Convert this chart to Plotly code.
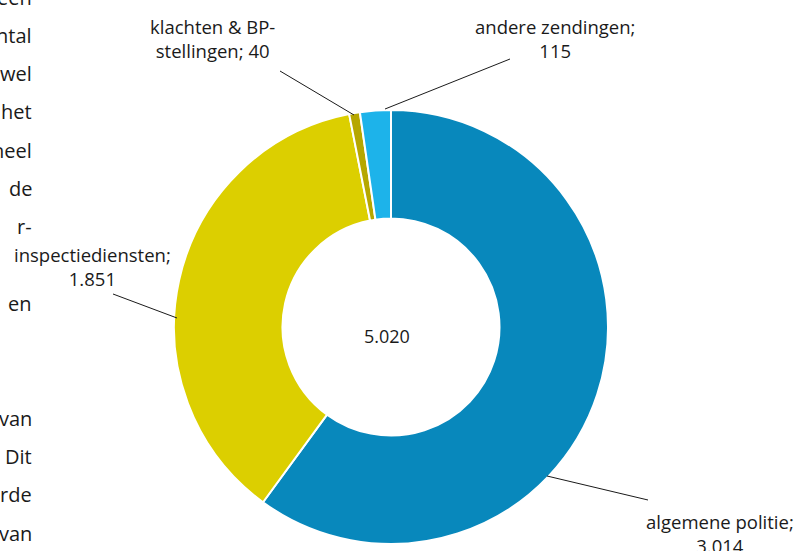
import plotly.graph_objects as go

# ---- data ----
categories = ["algemene politie", "inspectiediensten", "klachten & BP-stellingen", "andere zendingen"]
values = [3014, 1851, 40, 115]
label_lines = [
    ["algemene politie;", "3.014"],
    ["inspectiediensten;", "1.851"],
    ["klachten & BP-", "stellingen; 40"],
    ["andere zendingen;", "115"],
]
colors = ["#0888BC", "#DCCF00", "#B6A700", "#1DB3EA"]

# fragments of running body text visible at the left edge
bg_words = ["een", "ntal", "wel", "het", "heel", "de", "r-", None, "en", None, None, "van", "Dit", "rde", "van"]

W, H = 799, 551


def px(x, y):
    return x / W, 1 - y / H


def fmt(n):
    return f"{n:,}".replace(",", ".")


total = sum(values)

# donut geometry (screen pixels)
cx, cy, R = 391, 327, 217
dx0, dy0 = px(cx - R, cy - R)
dx1, dy1 = px(cx + R, cy + R)

fig = go.Figure(
    go.Pie(
        labels=categories,
        values=values,
        hole=0.5,
        sort=False,
        direction="clockwise",
        rotation=0,
        textinfo="none",
        marker=dict(colors=colors, line=dict(color="white", width=2)),
        domain=dict(x=[dx0, dx1], y=[dy1, dy0]),
        showlegend=False,
    )
)

font_lbl = dict(family="Open Sans", size=18.5, color="#1a1a1a")
font_ctr = dict(family="Open Sans", size=18, color="#1a1a1a")

# label positions (pixel centers) and leader lines
label_pos = [(720, 533), (92, 266), (212, 38), (555, 38)]
leaders = [((547, 476), (648, 500)), ((177, 318), (113, 294)), ((354, 115), (280, 71)), ((385, 109), (510, 59))]

annotations = []
shapes = []
for lines, (lx, ly), (p0, p1) in zip(label_lines, label_pos, leaders):
    ax, ay = px(lx, ly)
    annotations.append(dict(x=ax, y=ay, xref="paper", yref="paper", text="<br>".join(lines),
                            showarrow=False, xanchor="center", yanchor="middle", align="center",
                            font=font_lbl))
    x0, y0 = px(*p0)
    x1, y1 = px(*p1)
    shapes.append(dict(type="line", xref="paper", yref="paper", x0=x0, y0=y0, x1=x1, y1=y1,
                       line=dict(color="#1a1a1a", width=1)))

# total in the centre
tx, ty = px(387, 336)
annotations.append(dict(x=tx, y=ty, xref="paper", yref="paper", text=fmt(total), showarrow=False,
                        xanchor="center", yanchor="middle", font=font_ctr))

# background text fragments
for i, w in enumerate(bg_words):
    if w is None:
        continue
    yc = -3 + 38.3 * i
    bx, by = px(34, yc)
    annotations.append(dict(x=bx, y=by, xref="paper", yref="paper", text=w, showarrow=False,
                            xanchor="right", yanchor="middle",
                            font=dict(family="Open Sans", size=20, color="#1a1a1a")))

fig.update_layout(
    width=W, height=H,
    margin=dict(l=0, r=0, t=0, b=0),
    paper_bgcolor="white", plot_bgcolor="white",
    annotations=annotations, shapes=shapes,
)

fig.write_html(
    "out.html",
    config={"displayModeBar": False},
    post_script="document.body.style.margin='0';document.body.style.overflow='hidden';",
)
